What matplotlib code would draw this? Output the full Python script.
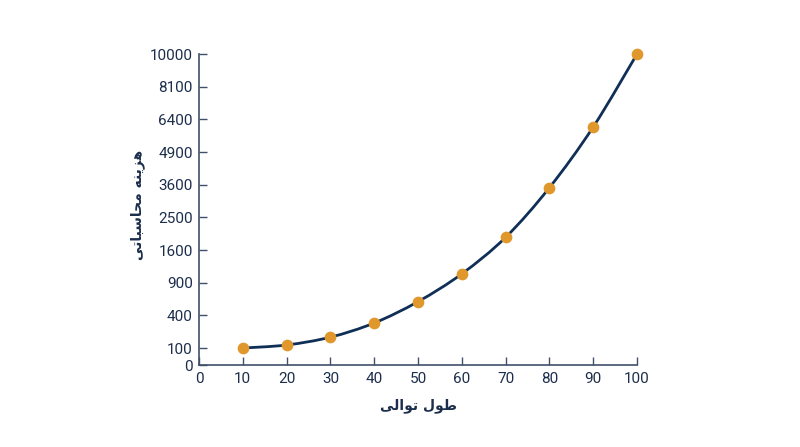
import numpy as np
import matplotlib
matplotlib.use("Agg")
import matplotlib.pyplot as plt
from matplotlib.path import Path
from matplotlib.patches import PathPatch

# sequence length and computational cost
seq_len = [10, 20, 30, 40, 50, 60, 70, 80, 90, 100]
cost = [100, 128, 200, 330, 610, 1090, 1950, 3500, 6050, 10000]

y_ticks = [0, 100, 400, 900, 1600, 2500, 3600, 4900, 6400, 8100, 10000]
y_tick_labels = [str(v) for v in y_ticks]
x_ticks = [0, 10, 20, 30, 40, 50, 60, 70, 80, 90, 100]

# Persian labels in presentation forms (visual order) since matplotlib does no shaping
x_label = "\ufef0\ufedf\ufe8d\ufeee\ufe97 \ufedd\ufeee\ufec3"
y_label = "\ufef0\ufe97\ufe8e\ufe92\ufeb3\ufe8e\ufea4\ufee3 \ufeea\ufee8\ufef3\ufeb0\ufeeb"

# the y axis spaces the ticks evenly (0 sits a bit closer to 100)
tick_pos = [-0.52, 0, 1, 2, 3, 4, 5, 6, 7, 8, 9]

navy = "#0f2f57"
text_col = "#1c2e4c"
axis_col = "#40506a"
dot_col = "#e0972b"


def fwd(v):
    return np.interp(v, y_ticks, tick_pos)


def inv(p):
    return np.interp(p, tick_pos, y_ticks)


def smooth_path(xs, ys):
    # Catmull-Rom through the points, worked out in the axis' own spacing
    px = np.asarray(xs, float)
    py = fwd(np.asarray(ys, float))
    verts = [(px[0], py[0])]
    codes = [Path.MOVETO]
    n = len(px)
    for i in range(n - 1):
        i0, i3 = max(i - 1, 0), min(i + 2, n - 1)
        c1 = (px[i] + (px[i + 1] - px[i0]) / 6, py[i] + (py[i + 1] - py[i0]) / 6)
        c2 = (px[i + 1] - (px[i3] - px[i]) / 6, py[i + 1] - (py[i3] - py[i]) / 6)
        verts += [c1, c2, (px[i + 1], py[i + 1])]
        codes += [Path.CURVE4] * 3
    verts = [(x, float(inv(y))) for x, y in verts]
    return Path(verts, codes)


plt.rcParams["font.family"] = ["Roboto", "DejaVu Sans"]

fig = plt.figure(figsize=(8, 4.47), dpi=100)
ax = fig.add_axes([0.24875, 0.1834, 0.5475, 0.6957])
ax.set_yscale("function", functions=(fwd, inv))
ax.set_xlim(0, 100)
ax.set_ylim(0, 10000)

ax.add_patch(PathPatch(smooth_path(seq_len, cost), facecolor="none",
                       edgecolor=navy, lw=2.0, zorder=2))
ax.scatter(seq_len, cost, s=55, color=dot_col, zorder=3, clip_on=False)

ax.set_yticks(y_ticks)
ax.set_yticklabels(y_tick_labels)
ax.set_xticks(x_ticks)
ax.tick_params(direction="in", length=5.5, width=1, color=axis_col,
               labelcolor=text_col, labelsize=11, pad=4.5)
ax.tick_params(axis="x", pad=5)

for side in ["top", "right"]:
    ax.spines[side].set_visible(False)
for side in ["left", "bottom"]:
    ax.spines[side].set_color(axis_col)
    ax.spines[side].set_linewidth(1.2)

ax.text(0.5, -0.13, x_label, transform=ax.transAxes, ha="center", va="center",
        fontsize=10, fontweight="bold", color=text_col, family="DejaVu Sans")
ax.text(-0.139, 0.514, y_label, transform=ax.transAxes, ha="center", va="center",
        rotation=90, fontsize=10, fontweight="bold", color=text_col,
        family="DejaVu Sans")

fig.savefig("out.png", dpi=100, facecolor="white")
